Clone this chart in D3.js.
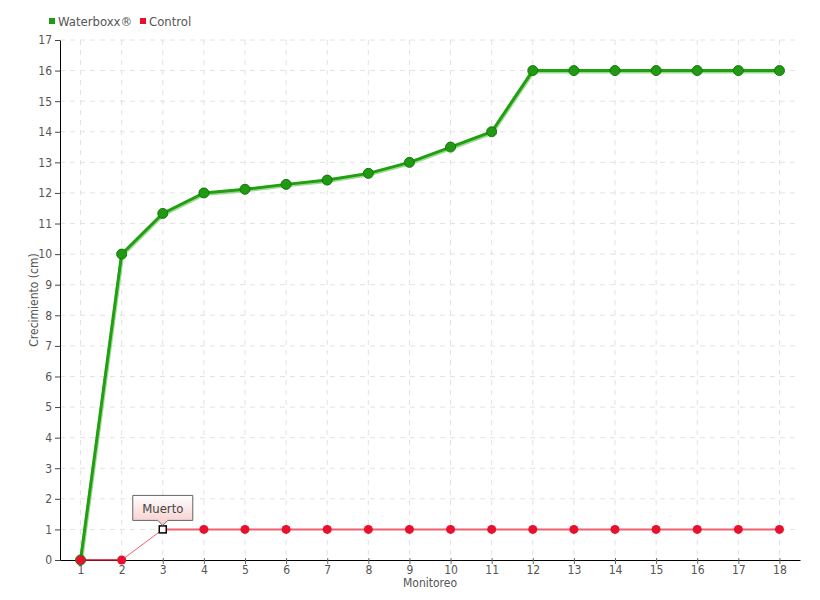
<!DOCTYPE html>
<html><head><meta charset="utf-8">
<script src="https://cdn.jsdelivr.net/npm/d3@7"></script>
<style>body{margin:0;background:#fff;} text{font-family:"DejaVu Sans Condensed","DejaVu Sans",sans-serif;}</style>
</head><body><svg id="c" width="820" height="600"></svg>
<script>
const monitoreo = [1,2,3,4,5,6,7,8,9,10,11,12,13,14,15,16,17,18];
const waterboxx = [0,10,11.33,12,12.12,12.28,12.42,12.64,13,13.5,14,16,16,16,16,16,16,16];
const control = [0,0,1,1,1,1,1,1,1,1,1,1,1,1,1,1,1,1];
const yTicks = d3.range(0,18);
const seriesNames = ["Waterboxx®","Control"];
const annotation = {index:2, label:"Muerto"};

const svg = d3.select("#c");
const L=60,R=800,T=40,B=560;
const x = d3.scaleLinear().domain([0.5,18.5]).range([L,R]);
const y = d3.scaleLinear().domain([0,17]).range([B,T]);
const txt="#555";

// grid
const g = svg.append("g");
g.selectAll(".vg").data(monitoreo).join("line")
 .attr("x1",d=>x(d)).attr("x2",d=>x(d)).attr("y1",T).attr("y2",B)
 .attr("stroke","#e2e2e2").attr("stroke-dasharray","5,5");
g.selectAll(".hg").data(yTicks.slice(1)).join("line")
 .attr("x1",L).attr("x2",R).attr("y1",d=>y(d)).attr("y2",d=>y(d))
 .attr("stroke","#e2e2e2").attr("stroke-dasharray","5,5");

// axes
const xa = svg.append("g").attr("transform",`translate(0,${B})`)
 .call(d3.axisBottom(x).tickValues(monitoreo).tickSize(4).tickSizeOuter(0).tickPadding(1));
xa.select(".domain").attr("stroke","#000");
xa.selectAll(".tick line").attr("stroke","#666").attr("y1",-2);
xa.selectAll("text").attr("fill",txt).attr("font-size",12);
const ya = svg.append("g").attr("transform",`translate(${L},0)`)
 .call(d3.axisLeft(y).tickValues(yTicks).tickSize(5).tickSizeOuter(0).tickPadding(3));
ya.select(".domain").attr("stroke","#000");
ya.selectAll(".tick line").attr("stroke","#444");
ya.selectAll("text").attr("fill",txt).attr("font-size",12);

svg.append("text").attr("x",430).attr("y",587).attr("text-anchor","middle")
 .attr("fill",txt).attr("font-size",12).text("Monitoreo");
svg.append("text").attr("transform","translate(38,300) rotate(-90)").attr("text-anchor","middle")
 .attr("fill",txt).attr("font-size",12).text("Crecimiento (cm)");

// green line
const lineG = d3.line().x((d,i)=>x(monitoreo[i])).y(d=>y(d));
svg.append("path").datum(waterboxx).attr("d",lineG).attr("fill","none")
 .attr("stroke","#5cc04a").attr("stroke-width",4).attr("opacity",0.6).attr("transform","translate(0.5,1)");
svg.append("path").datum(waterboxx).attr("d",lineG).attr("fill","none")
 .attr("stroke","#20a010").attr("stroke-width",3);
svg.selectAll(".gp").data(waterboxx).join("circle")
 .attr("cx",(d,i)=>x(monitoreo[i])).attr("cy",d=>y(d)).attr("r",5)
 .attr("fill","#1f9a12").attr("stroke","#17750d").attr("stroke-width",1);

// red line
const segs = control.slice(1).map((d,i)=>({i, a:control[i], b:d}));
svg.selectAll(".rs").data(segs).join("line")
 .attr("x1",d=>x(monitoreo[d.i])).attr("y1",d=>y(d.a))
 .attr("x2",d=>x(monitoreo[d.i+1])).attr("y2",d=>y(d.b))
 .attr("stroke",d=>d.i===0?"#c0101e":"#f06070").attr("stroke-width",d=>d.i===0?1.5:(d.i===1?1:2));
const ai = annotation.index;
control.forEach((d,i)=>{
  if(i===ai) return;
  svg.append("circle").attr("cx",x(monitoreo[i])).attr("cy",y(d)).attr("r",4.5).attr("fill","#e8112d");
});
svg.append("rect").attr("x",x(monitoreo[ai])-3.5).attr("y",y(control[ai])-3.5)
 .attr("width",7).attr("height",7).attr("fill","#fff").attr("stroke","#000").attr("stroke-width",1.5);

// tooltip
const defs = svg.append("defs");
const gr = defs.append("linearGradient").attr("id","tg").attr("x1",0).attr("y1",0).attr("x2",0).attr("y2",1);
gr.append("stop").attr("offset","0").attr("stop-color","#ffffff");
gr.append("stop").attr("offset","1").attr("stop-color","#f7caca");
const px = x(monitoreo[ai]), py = y(control[ai]);
const bx0=px-30,bx1=px+30,by0=py-34,by1=py-9;
svg.append("path").attr("d",`M${bx0},${by0}H${bx1}V${by1}H${px+5}L${px},${py-4}L${px-5},${by1}H${bx0}Z`)
 .attr("fill","url(#tg)").attr("stroke","#666").attr("stroke-width",1);
svg.append("text").attr("x",px).attr("y",by1-7).attr("text-anchor","middle")
 .attr("fill","#444").attr("font-size",13).text(annotation.label);

// legend
const leg = [{n:seriesNames[0],c:"#1f9a12",x:49},{n:seriesNames[1],c:"#e8112d",x:140}];
leg.forEach(l=>{
  svg.append("rect").attr("x",l.x).attr("y",18).attr("width",6).attr("height",6).attr("fill",l.c);
  svg.append("text").attr("x",l.x+9).attr("y",26).attr("fill",txt).attr("font-size",13).text(l.n);
});
</script></body></html>
